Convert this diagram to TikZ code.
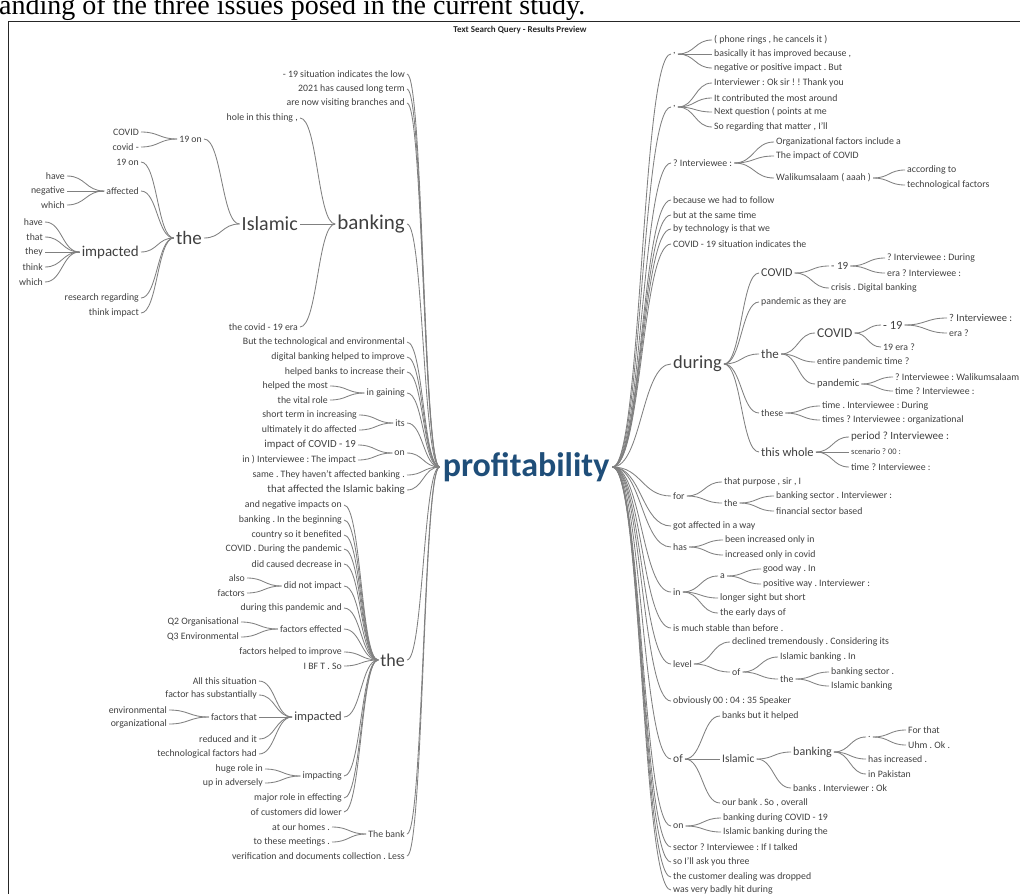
\documentclass[tikz,border=0pt]{standalone}
\usepackage{fontspec}
\setmainfont{Carlito}
\newfontfamily\docserif{Liberation Serif}
\frenchspacing
\definecolor{txt}{HTML}{404040}
\definecolor{lnk}{HTML}{808080}
\definecolor{hubblue}{HTML}{1F4E79}
\newcommand{\fs}[1]{\fontsize{#1}{#1}\selectfont}
\newcommand{\lnk}[2]{%
  \path (#1.east) -- (#2.west) coordinate[midway] (m);
  \draw[link] (#1.east) .. controls (m |- #1.east) and (m |- #2.west) .. (#2.west);}
\tikzset{
  w/.style={font=\fs{9.8}, text=txt, inner sep=2pt},
  lw/.style={w, anchor=east},
  rw/.style={w, anchor=west},
  link/.style={draw=lnk, line width=0.85pt},
}
\begin{document}
\begin{tikzpicture}[x=1pt,y=-1pt]
\useasboundingbox (0,0) rectangle (1020,894);
\node[anchor=base west, font=\docserif\fs{28}, inner sep=0] (doc) at (-1,14) {anding of the three issues posed in the current study.};
\draw[line width=1pt, black!85] (8,894) -- (8,21) -- (1020,21);
\node[font=\bfseries\fs{9}, text=black!85] (title) at (520,30) {Text Search Query - Results Preview};
\node[font=\bfseries\fs{34}, text=hubblue, inner sep=3pt] (hub) at (526,467) {profitability};

\node[lw] (l1) at (407,74) {- 19 situation indicates the low};
\node[lw] (l2) at (407,89) {2021 has caused long term};
\node[lw] (l3) at (407,103) {are now visiting branches and};
\node[lw, font=\fs{21}] (bank) at (407,224) {banking};
\node[lw] (l5) at (407,342) {But the technological and environmental};
\node[lw] (l6) at (407,357) {digital banking helped to improve};
\node[lw] (l7) at (407,372) {helped banks to increase their};
\node[lw] (gain) at (407,393) {in gaining};
\node[lw] (its) at (407,423) {its};
\node[lw] (onL) at (407,453) {on};
\node[lw] (l11) at (407,475) {same . They haven't affected banking .};
\node[lw, font=\fs{10.8}] (l12) at (407,490) {that affected the Islamic baking};
\node[lw, font=\fs{18}] (theB) at (407,660) {the};
\node[lw] (tbank) at (407,834) {The bank};
\node[lw] (l15) at (407,856) {verification and documents collection . Less};

\node[lw] (hole) at (300,118) {hole in this thing ,};
\node[lw, font=\fs{20}] (isl) at (300,224) {Islamic};
\node[lw] (era) at (300,327) {the covid - 19 era};
\node[lw] (on19) at (204,139) {19 on};
\node[lw, font=\fs{19}] (theA) at (204,238) {the};
\node[lw] (cov1) at (141,132) {COVID};
\node[lw] (cov2) at (141,147) {covid -};
\node[lw] (on19b) at (141,162) {19 on};
\node[lw] (aff) at (141,191) {affected};
\node[lw, font=\fs{15}] (impA) at (141,252) {impacted};
\node[lw] (resr) at (141,298) {research regarding};
\node[lw] (thimp) at (141,313) {think impact};
\node[lw] (aff1) at (67,176) {have};
\node[lw] (aff2) at (67,191) {negative};
\node[lw] (aff3) at (67,205) {which};
\node[lw] (imp1) at (45,222) {have};
\node[lw] (imp2) at (45,237) {that};
\node[lw] (imp3) at (45,252) {they};
\node[lw] (imp4) at (45,267) {think};
\node[lw] (imp5) at (45,282) {which};

\node[lw] (gain1) at (330,386) {helped the most};
\node[lw] (gain2) at (330,400) {the vital role};
\node[lw] (its1) at (359,415) {short term in increasing};
\node[lw] (its2) at (359,430) {ultimately it do affected};
\node[lw, font=\fs{10.8}] (on1) at (358,445) {impact of COVID - 19};
\node[lw] (on2) at (358,460) {in ) Interviewee : The impact};

\node[lw] (tb1) at (344,505) {and negative impacts on};
\node[lw] (tb2) at (344,520) {banking . In the beginning};
\node[lw] (tb3) at (344,535) {country so it benefited};
\node[lw] (tb4) at (344,549) {COVID . During the pandemic};
\node[lw] (tb5) at (344,564) {did caused decrease in};
\node[lw] (dni) at (344,586) {did not impact};
\node[lw] (tb7) at (344,608) {during this pandemic and};
\node[lw] (fef) at (344,629) {factors effected};
\node[lw] (tb9) at (344,652) {factors helped to improve};
\node[lw] (tb10) at (344,666) {I BF T . So};
\node[lw, font=\fs{12.5}] (impB) at (344,717) {impacted};
\node[lw] (impg) at (344,776) {impacting};
\node[lw] (tb13) at (344,798) {major role in effecting};
\node[lw] (tb14) at (344,812) {of customers did lower};
\node[lw] (dni1) at (247,578) {also};
\node[lw] (dni2) at (247,593) {factors};
\node[lw] (fef1) at (241,622) {Q2 Organisational};
\node[lw] (fef2) at (241,637) {Q3 Environmental};
\node[lw] (ib1) at (259,681) {All this situation};
\node[lw] (ib2) at (259,695) {factor has substantially};
\node[lw] (ftt) at (259,717) {factors that};
\node[lw] (ib4) at (259,739) {reduced and it};
\node[lw] (ib5) at (259,754) {technological factors had};
\node[lw] (ftt1) at (169,710) {environmental};
\node[lw] (ftt2) at (169,724) {organizational};
\node[lw] (ipg1) at (265,769) {huge role in};
\node[lw] (ipg2) at (265,783) {up in adversely};
\node[lw] (tbk1) at (332,827) {at our homes .};
\node[lw] (tbk2) at (332,842) {to these meetings .};

\node[rw] (c1) at (671,54) {,};
\node[rw] (c2) at (671,107) {,};
\node[rw] (ivw) at (671,163) {? Interviewee :};
\node[rw] (r4) at (671,200) {because we had to follow};
\node[rw] (r5) at (671,215) {but at the same time};
\node[rw] (r6) at (671,229) {by technology is that we};
\node[rw] (r7) at (671,244) {COVID - 19 situation indicates the};
\node[rw, font=\fs{18.5}] (dur) at (671,364) {during};
\node[rw] (forR) at (671,496) {for};
\node[rw] (r10) at (671,526) {got affected in a way};
\node[rw] (has) at (671,547) {has};
\node[rw] (inR) at (671,592) {in};
\node[rw] (r13) at (671,628) {is much stable than before .};
\node[rw] (lev) at (671,664) {level};
\node[rw] (r15) at (671,701) {obviously 00 : 04 : 35 Speaker};
\node[rw, font=\fs{11.5}] (ofR) at (671,759) {of};
\node[rw] (onR) at (671,826) {on};
\node[rw] (r18) at (671,847) {sector ? Interviewee : If I talked};
\node[rw] (r19) at (671,862) {so I'll ask you three};
\node[rw] (r20) at (671,877) {the customer dealing was dropped};
\node[rw] (r21) at (671,890) {was very badly hit during};

\node[rw] (c1a) at (712,40) {( phone rings , he cancels it )};
\node[rw] (c1b) at (712,54) {basically it has improved because ,};
\node[rw] (c1c) at (712,68) {negative or positive impact . But};
\node[rw] (c2a) at (712,83) {Interviewer : Ok sir ! ! Thank you};
\node[rw] (c2b) at (712,98) {It contributed the most around};
\node[rw] (c2c) at (712,112) {Next question ( points at me};
\node[rw] (c2d) at (712,127) {So regarding that matter , I'll};
\node[rw] (iv1) at (774,142) {Organizational factors include a};
\node[rw] (iv2) at (774,156) {The impact of COVID};
\node[rw] (wal) at (774,178) {Walikumsalaam ( aaah )};
\node[rw] (wal1) at (905,170) {according to};
\node[rw] (wal2) at (905,185) {technological factors};

\node[rw, font=\fs{12}] (covA) at (759,273) {COVID};
\node[rw] (d2) at (759,302) {pandemic as they are};
\node[rw, font=\fs{13}] (theR) at (759,354) {the};
\node[rw] (these) at (759,413) {these};
\node[rw, font=\fs{12.5}] (whole) at (759,452) {this whole};
\node[rw, font=\fs{11}] (m19a) at (829,266) {- 19};
\node[rw] (crisis) at (829,288) {crisis . Digital banking};
\node[rw] (m19a1) at (885,258) {? Interviewee : During};
\node[rw] (m19a2) at (885,273) {era ? Interviewee :};
\node[rw, font=\fs{13.5}] (covB) at (815,333) {COVID};
\node[rw] (entire) at (815,362) {entire pandemic time ?};
\node[rw, font=\fs{10.5}] (pand) at (815,384) {pandemic};
\node[rw, font=\fs{12.5}] (m19b) at (881,325) {- 19};
\node[rw] (era19) at (881,347) {19 era ?};
\node[rw, font=\fs{10.5}] (m19b1) at (947,318) {? Interviewee :};
\node[rw] (m19b2) at (947,333) {era ?};
\node[rw] (pand1) at (893,377) {? Interviewee : Walikumsalaam};
\node[rw] (pand2) at (893,391) {time ? Interviewee :};
\node[rw] (these1) at (820,406) {time . Interviewee : During};
\node[rw] (these2) at (820,420) {times ? Interviewee : organizational};
\node[rw, font=\fs{11}] (wh1) at (849,437) {period ? Interviewee :};
\node[rw, font=\fs{8.5}] (wh2) at (849,452) {scenario ? 00 :};
\node[rw] (wh3) at (849,467) {time ? Interviewee :};

\node[rw] (for1) at (722,482) {that purpose , sir , I};
\node[rw] (theF) at (722,503) {the};
\node[rw] (theF1) at (774,496) {banking sector . Interviewer :};
\node[rw] (theF2) at (774,511) {financial sector based};
\node[rw] (has1) at (723,540) {been increased only in};
\node[rw] (has2) at (723,555) {increased only in covid};
\node[rw] (aR) at (718,576) {a};
\node[rw] (in2) at (718,598) {longer sight but short};
\node[rw] (in3) at (718,613) {the early days of};
\node[rw] (a1) at (761,569) {good way . In};
\node[rw] (a2) at (761,584) {positive way . Interviewer :};
\node[rw] (lev1) at (730,642) {declined tremendously . Considering its};
\node[rw] (ofL) at (730,672) {of};
\node[rw] (ofL1) at (778,657) {Islamic banking . In};
\node[rw] (theL) at (778,679) {the};
\node[rw] (theL1) at (829,672) {banking sector .};
\node[rw] (theL2) at (829,686) {Islamic banking};
\node[rw] (ofR1) at (720,716) {banks but it helped};
\node[rw, font=\fs{11.5}] (islR) at (720,759) {Islamic};
\node[rw] (ofR3) at (720,803) {our bank . So , overall};
\node[rw, font=\fs{12}] (bankR) at (791,752) {banking};
\node[rw] (islR2) at (791,788) {banks . Interviewer : Ok};
\node[rw] (dot) at (866,737) {.};
\node[rw] (bk2) at (866,759) {has increased .};
\node[rw] (bk3) at (866,774) {in Pakistan};
\node[rw] (dot1) at (906,730) {For that};
\node[rw] (dot2) at (906,745) {Uhm . Ok .};
\node[rw] (on1R) at (721,818) {banking during COVID - 19};
\node[rw] (on2R) at (721,832) {Islamic banking during the};

\foreach \c in {l1,l2,l3,bank,l5,l6,l7,gain,its,onL,l11,l12,theB,tbank,l15} {\lnk{\c}{hub}}
\foreach \c in {hole,isl,era} {\lnk{\c}{bank}}
\foreach \c in {on19,theA} {\lnk{\c}{isl}}
\foreach \c in {cov1,cov2} {\lnk{\c}{on19}}
\foreach \c in {on19b,aff,impA,resr,thimp} {\lnk{\c}{theA}}
\foreach \c in {aff1,aff2,aff3} {\lnk{\c}{aff}}
\foreach \i in {1,...,5} {\lnk{imp\i}{impA}}
\foreach \c in {gain1,gain2} {\lnk{\c}{gain}}
\foreach \c in {its1,its2} {\lnk{\c}{its}}
\foreach \c in {on1,on2} {\lnk{\c}{onL}}
\foreach \c in {tb1,tb2,tb3,tb4,tb5,dni,tb7,fef,tb9,tb10,impB,impg,tb13,tb14} {\lnk{\c}{theB}}
\foreach \c in {dni1,dni2} {\lnk{\c}{dni}}
\foreach \c in {fef1,fef2} {\lnk{\c}{fef}}
\foreach \c in {ib1,ib2,ftt,ib4,ib5} {\lnk{\c}{impB}}
\foreach \c in {ftt1,ftt2} {\lnk{\c}{ftt}}
\foreach \c in {ipg1,ipg2} {\lnk{\c}{impg}}
\foreach \c in {tbk1,tbk2} {\lnk{\c}{tbank}}

\foreach \c in {c1,c2,ivw,r4,r5,r6,r7,dur,forR,r10,has,inR,r13,lev,r15,ofR,onR,r18,r19,r20,r21} {\lnk{hub}{\c}}
\foreach \c in {c1a,c1b,c1c} {\lnk{c1}{\c}}
\foreach \c in {c2a,c2b,c2c,c2d} {\lnk{c2}{\c}}
\foreach \c in {iv1,iv2,wal} {\lnk{ivw}{\c}}
\foreach \c in {wal1,wal2} {\lnk{wal}{\c}}
\foreach \c in {covA,d2,theR,these,whole} {\lnk{dur}{\c}}
\foreach \c in {m19a,crisis} {\lnk{covA}{\c}}
\foreach \c in {m19a1,m19a2} {\lnk{m19a}{\c}}
\foreach \c in {covB,entire,pand} {\lnk{theR}{\c}}
\foreach \c in {m19b,era19} {\lnk{covB}{\c}}
\foreach \c in {m19b1,m19b2} {\lnk{m19b}{\c}}
\foreach \c in {pand1,pand2} {\lnk{pand}{\c}}
\foreach \c in {these1,these2} {\lnk{these}{\c}}
\foreach \c in {wh1,wh2,wh3} {\lnk{whole}{\c}}
\foreach \c in {for1,theF} {\lnk{forR}{\c}}
\foreach \c in {theF1,theF2} {\lnk{theF}{\c}}
\foreach \c in {has1,has2} {\lnk{has}{\c}}
\foreach \c in {aR,in2,in3} {\lnk{inR}{\c}}
\foreach \c in {a1,a2} {\lnk{aR}{\c}}
\foreach \c in {lev1,ofL} {\lnk{lev}{\c}}
\foreach \c in {ofL1,theL} {\lnk{ofL}{\c}}
\foreach \c in {theL1,theL2} {\lnk{theL}{\c}}
\foreach \c in {ofR1,islR,ofR3} {\lnk{ofR}{\c}}
\foreach \c in {bankR,islR2} {\lnk{islR}{\c}}
\foreach \c in {dot,bk2,bk3} {\lnk{bankR}{\c}}
\foreach \c in {dot1,dot2} {\lnk{dot}{\c}}
\foreach \c in {on1R,on2R} {\lnk{onR}{\c}}
\end{tikzpicture}
\end{document}
